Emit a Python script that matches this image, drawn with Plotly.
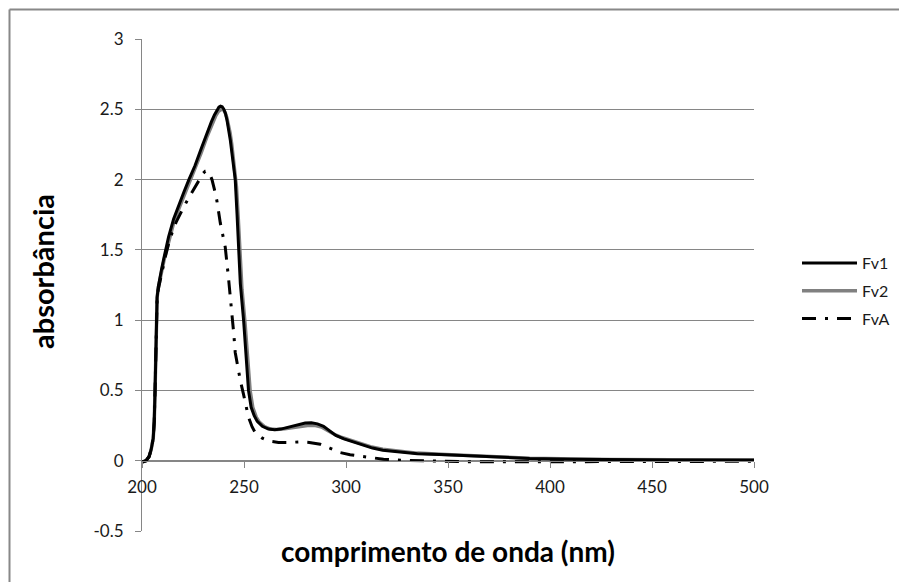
import plotly.graph_objects as go

# UV absorption spectra (wavelength in nm, absorbance)
wl_fv1 = [200, 202, 203.5, 204.5, 205.5, 206, 206.4, 206.7, 207, 207.4, 208, 208.8, 209.7, 211,
          213, 215.5, 218, 220.5, 223, 226, 229, 232, 234, 235.5, 236.7, 237.7, 238.5, 239.3,
          240.1, 240.9, 241.7, 242.5, 243.3, 244.5, 245.7, 246.6, 247.3, 248.2, 249.8, 251,
          252.2, 253.5, 255, 256.5, 259, 262, 265, 268, 272, 276, 280, 283, 286, 289, 292, 295,
          299, 303, 308, 313, 318, 325, 335, 349, 360, 374, 390, 410, 430, 460, 500]
abs_fv1 = [-0.01, 0.0, 0.03, 0.08, 0.16, 0.28, 0.5, 0.8, 1.05, 1.16, 1.24, 1.31, 1.37, 1.46,
           1.59, 1.72, 1.82, 1.91, 2.0, 2.1, 2.22, 2.34, 2.41, 2.46, 2.495, 2.515, 2.522, 2.518,
           2.5, 2.47, 2.42, 2.36, 2.28, 2.14, 2.0, 1.75, 1.5, 1.26, 1.0, 0.75, 0.5, 0.38, 0.32,
           0.28, 0.245, 0.225, 0.22, 0.225, 0.24, 0.257, 0.268, 0.27, 0.262, 0.245, 0.21, 0.18,
           0.155, 0.135, 0.11, 0.09, 0.075, 0.063, 0.05, 0.042, 0.034, 0.027, 0.016, 0.01, 0.007,
           0.005, 0.004]

wl_fv2 = [200, 202, 203.5, 204.5, 205.5, 206, 206.4, 206.7, 207, 207.4, 208, 208.8, 209.7, 211,
          213, 215.5, 218, 220.5, 223, 226, 229, 232, 234.5, 236.2, 237.5, 238.4, 239.2, 240,
          240.8, 241.6, 242.4, 243.2, 244, 245.2, 246.3, 247.2, 248, 249, 250.5, 251.7, 253,
          254.3, 256, 257.5, 260, 263, 266, 270, 274, 278, 282, 285, 288, 291, 294, 298, 302,
          307, 312, 318, 325, 335, 349, 360, 374, 390, 410, 430, 460, 500]
abs_fv2 = [-0.01, 0.0, 0.03, 0.08, 0.16, 0.28, 0.5, 0.8, 1.05, 1.16, 1.23, 1.3, 1.35, 1.44,
           1.56, 1.69, 1.79, 1.88, 1.97, 2.07, 2.19, 2.31, 2.4, 2.455, 2.485, 2.498, 2.502, 2.495,
           2.475, 2.44, 2.39, 2.33, 2.25, 2.1, 1.95, 1.72, 1.48, 1.22, 0.98, 0.74, 0.5, 0.38,
           0.31, 0.275, 0.243, 0.225, 0.222, 0.228, 0.238, 0.248, 0.252, 0.25, 0.24, 0.215, 0.19,
           0.165, 0.145, 0.12, 0.1, 0.082, 0.068, 0.054, 0.045, 0.036, 0.028, 0.018, 0.012,
           0.009, 0.007, 0.006]

wl_fva = [200, 202, 203.5, 204.5, 205.5, 206, 206.4, 206.7, 207, 207.4, 208, 208.8, 209.8,
          211.4, 213, 214.7, 216.8, 218.8, 221, 223.7, 226.5, 228.5, 230, 231, 232, 233.2, 234.3,
          235.5, 236.7, 238.4, 240, 240.8, 242.4, 244.1, 245, 245.7, 247, 248.2, 249.8, 251,
          252.2, 254, 255.5, 257.1, 259, 262, 266.9, 272, 277.6, 282, 287.4, 292, 297.2, 302,
          307, 312, 318.4, 328, 340, 355, 370, 390, 420, 460, 500]
abs_fva = [-0.01, 0.0, 0.03, 0.08, 0.16, 0.28, 0.5, 0.8, 1.05, 1.15, 1.22, 1.28, 1.33, 1.45,
           1.54, 1.62, 1.7, 1.76, 1.82, 1.89, 1.96, 2.01, 2.045, 2.06, 2.06, 2.04, 2.0, 1.93,
           1.85, 1.69, 1.58, 1.52, 1.3, 1.07, 0.9, 0.77, 0.65, 0.57, 0.47, 0.38, 0.31, 0.24, 0.2,
           0.18, 0.16, 0.14, 0.13, 0.13, 0.134, 0.13, 0.117, 0.09, 0.058, 0.043, 0.032, 0.02,
           0.01, 0.003, -0.002, -0.006, -0.008, -0.007, -0.005, -0.004, -0.004]

series_names = ["Fv1", "Fv2", "FvA"]
x_ticks = [200, 250, 300, 350, 400, 450, 500]
y_ticks = [-0.5, 0, 0.5, 1, 1.5, 2, 2.5, 3]
y_tick_text = ["-0.5", "0", "0.5", "1", "1.5", "2", "2.5", "3"]

FONT = "Lato, 'Open Sans', sans-serif"
AXIS_GREY = "#868686"
TEXT = "#1a1a1a"

W, H = 899, 582
L, R, T, B = 142, 145, 39, 51
pw, ph = W - L - R, H - T - B


def px(xp):
    return (xp - L) / pw


def py(yp):
    return (H - B - yp) / ph


fig = go.Figure()
# Fv2 is drawn first so the black Fv1 line sits on top of it
fig.add_trace(go.Scatter(x=wl_fv2, y=abs_fv2, name=series_names[1], mode="lines",
                         line=dict(color="#808080", width=3.5), legendrank=2,
                         legendgroup="g2"))
fig.add_trace(go.Scatter(x=wl_fv1, y=abs_fv1, name=series_names[0], mode="lines",
                         line=dict(color="#000000", width=3), legendrank=1,
                         legendgroup="g1"))
fig.add_trace(go.Scatter(x=wl_fva, y=abs_fva, name=series_names[2], mode="lines",
                         line=dict(color="#000000", width=3, dash="14px,9px,3px,9px"),
                         legendrank=3, legendgroup="g3"))

fig.update_layout(
    width=W, height=H,
    margin=dict(l=L, r=R, t=T, b=B, autoexpand=False),
    paper_bgcolor="white", plot_bgcolor="white",
    font=dict(family=FONT, size=16, color=TEXT),
    showlegend=True,
    legend=dict(x=px(797), y=py(246), xanchor="left", yanchor="top",
                traceorder="grouped", tracegroupgap=4, itemwidth=55,
                font=dict(family=FONT, size=16, color=TEXT),
                bgcolor="rgba(0,0,0,0)"),
    xaxis=dict(range=[200, 500], tickvals=x_ticks, ticktext=[str(v) for v in x_ticks],
               anchor="free", position=0.5 / 3.5,
               showgrid=False, zeroline=False, showline=True, linecolor=AXIS_GREY,
               linewidth=1, ticks="outside", ticklen=6, tickcolor=AXIS_GREY,
               ticklabelstandoff=5,
               tickfont=dict(family=FONT, size=17, color=TEXT)),
    yaxis=dict(range=[-0.5, 3], tickvals=y_ticks, ticktext=y_tick_text,
               showgrid=True, gridcolor=AXIS_GREY, gridwidth=1, zeroline=False,
               showline=True, linecolor=AXIS_GREY, linewidth=1,
               ticks="outside", ticklen=6, tickcolor=AXIS_GREY,
               ticklabelstandoff=8,
               tickfont=dict(family=FONT, size=17, color=TEXT)),
)

# chart frame (left and top edges)
fig.add_shape(type="line", xref="paper", yref="paper", x0=px(9.5), x1=px(9.5),
              y0=py(9.5), y1=py(600), line=dict(color="#888888", width=2))
fig.add_shape(type="line", xref="paper", yref="paper", x0=px(9.5), x1=px(960),
              y0=py(9.5), y1=py(9.5), line=dict(color="#888888", width=2))

fig.add_annotation(text="<b>comprimento de onda (nm)</b>", xref="paper", yref="paper",
                   x=px(448), y=py(551), xanchor="center", yanchor="middle",
                   showarrow=False, font=dict(family=FONT, size=28, color="#000000"))
fig.add_annotation(text="<b>absorbância</b>", xref="paper", yref="paper",
                   x=px(42), y=py(272), xanchor="center", yanchor="middle",
                   showarrow=False, textangle=-90,
                   font=dict(family=FONT, size=29, color="#000000"))

fig.write_html("out.html")
